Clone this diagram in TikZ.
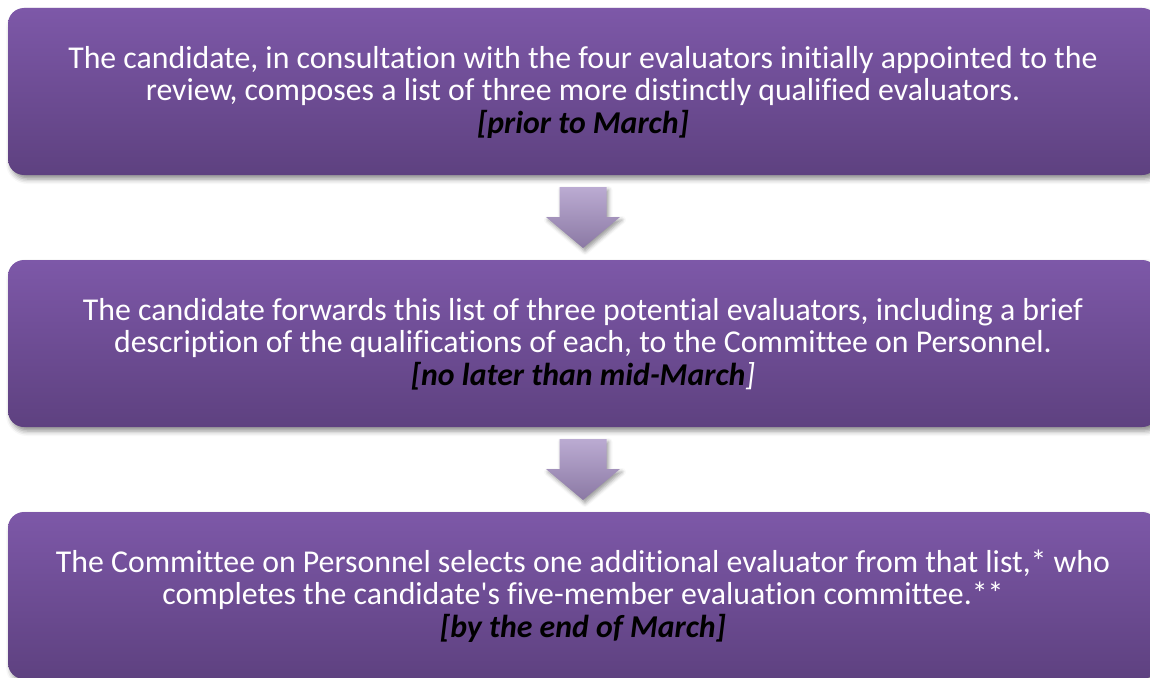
\documentclass[tikz,border=0pt]{standalone}
\usepackage{fontspec}
\setmainfont{Carlito}[RawFeature=-liga]
\usetikzlibrary{calc,shadows.blur}
\definecolor{boxtop}{HTML}{7D58A8}
\definecolor{boxbot}{HTML}{5E4180}
\definecolor{arrtop}{HTML}{BBABD2}
\definecolor{arrbot}{HTML}{8B79A4}
\tikzset{
  stepbox/.style={rounded corners=16pt, minimum width=1150pt, minimum height=167pt,
    inner sep=0pt, top color=boxtop, bottom color=boxbot, draw=none,
    blur shadow={shadow xshift=3pt, shadow yshift=-4pt, shadow blur radius=5pt, shadow opacity=45}},
  steptext/.style={text=white, align=center, font=\fontsize{31.8pt}{32.5pt}\selectfont, inner sep=0pt},
  flowarrow/.style={top color=arrtop, bottom color=arrbot, draw=none,
    blur shadow={shadow xshift=2pt, shadow yshift=-3pt, shadow blur radius=4pt, shadow opacity=40}}
}
\begin{document}
\begin{tikzpicture}[x=1pt,y=1pt]
\useasboundingbox (0,0) rectangle (1150,-677);

\node[stepbox] (b1) at (583,-91.5) {};
\node[stepbox] (b2) at (583,-343.5) {};
\node[stepbox] (b3) at (583,-595.5) {};

\node[steptext] (t1) at ($(b1.center)+(0,-0.5)$) {The candidate, in consultation with the four evaluators initially appointed to the\\
review, composes a list of three more distinctly qualified evaluators.\\
{\color{black}\bfseries\itshape [prior to March]}};

\node[steptext] (t2) at ($(b2.center)+(0,-0.5)$) {The candidate forwards this list of three potential evaluators, including a brief\\
description of the qualifications of each, to the Committee on Personnel.\\
{\color{black}\bfseries\itshape [no later than mid-March}{\itshape ]}};

\node[steptext] (t3) at ($(b3.center)+(0,-0.5)$) {The Committee on Personnel selects one additional evaluator from that list,* who\\
completes the candidate\textquotesingle s five-member evaluation committee.**\\
{\color{black}\bfseries\itshape [by the end of March]}};

% block arrows between consecutive steps
\foreach \a/\b/\m in {b1/b2/m1, b2/b3/m2}{
  \coordinate (\m) at ($(\a.south)!0.5!(\b.north)$);
  \path[flowarrow] ($(\m)+(-23.5,30.5)$) -- ($(\m)+(23.5,30.5)$) -- ($(\m)+(23.5,0.5)$)
     -- ($(\m)+(37,0.5)$) -- ($(\m)+(0,-30.5)$) -- ($(\m)+(-37,0.5)$)
     -- ($(\m)+(-23.5,0.5)$) -- cycle;
}
\end{tikzpicture}
\end{document}
